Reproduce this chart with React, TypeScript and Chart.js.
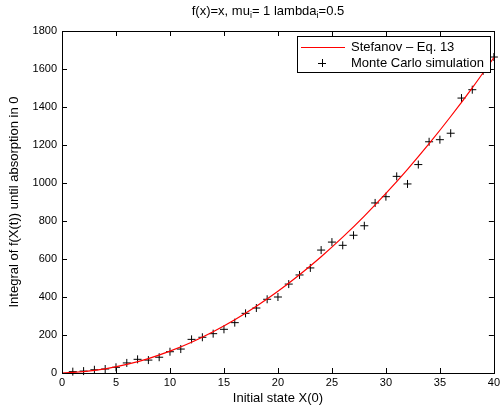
import React, { useEffect, useRef } from 'react';
import { Chart, registerables } from 'chart.js';

Chart.register(...registerables);

// ---- data ----
const curveX = [0, 2, 4, 6, 8, 10, 12, 14, 16, 18, 20, 22, 24, 26, 28, 30, 32, 34, 36, 38, 40];
const curveY = [0, 7, 22, 45, 76, 115, 162, 217, 280, 351, 430, 517, 612, 715, 826, 945, 1072, 1207, 1350, 1501, 1660];

const mcX = [1, 2, 3, 4, 5, 6, 7, 8, 9, 10, 11, 12, 13, 14, 15, 16, 17, 18, 19, 20,
  21, 22, 23, 24, 25, 26, 27, 28, 29, 30, 31, 32, 33, 34, 35, 36, 37, 38, 39, 40];
const mcY = [7, 10, 17, 21, 30, 53, 72, 68, 83, 112, 126, 177, 188, 207, 230, 265, 314, 342, 388, 400,
  468, 516, 553, 647, 689, 672, 725, 775, 895, 928, 1035, 995, 1097, 1217, 1228, 1262, 1447, 1491, 1590, 1663];

const seriesLabels = ['Stefanov \u2013 Eq. 13', 'Monte Carlo simulation'];
const titleParts: [string, boolean][] = [['f(x)=x, mu', false], ['i', true], ['= 1 lambda', false], ['i', true], ['=0.5', false]];
const xTitle = 'Initial state X(0)';
const yTitle = 'Integral of f(X(t)) until absorption in 0';

const FONT = '"Liberation Sans", Arial, Helvetica, sans-serif';

const framePlugin = {
  id: 'frame',
  afterDatasetsDraw(chart: any) {
    const { ctx, chartArea, scales } = chart;
    const { left, right, top, bottom } = chartArea;
    const tl = 5;
    ctx.save();
    ctx.strokeStyle = '#000';
    ctx.lineWidth = 1;
    ctx.beginPath();
    for (const t of scales.x.ticks) {
      const px = Math.round(scales.x.getPixelForValue(t.value)) + 0.5;
      ctx.moveTo(px, bottom); ctx.lineTo(px, bottom - tl);
      ctx.moveTo(px, top); ctx.lineTo(px, top + tl);
    }
    for (const t of scales.y.ticks) {
      const py = Math.round(scales.y.getPixelForValue(t.value)) + 0.5;
      ctx.moveTo(left, py); ctx.lineTo(left + tl, py);
      ctx.moveTo(right, py); ctx.lineTo(right - tl, py);
    }
    ctx.stroke();
    ctx.strokeRect(Math.round(left) + 0.5, Math.round(top) + 0.5, Math.round(right - left), Math.round(bottom - top));
    ctx.restore();
  },
};

const overlayPlugin = {
  id: 'overlay',
  afterDraw(chart: any) {
    const { ctx } = chart;
    ctx.save();
    // title with subscripts
    const mainFont = `13px ${FONT}`;
    const subFont = `9px ${FONT}`;
    let total = 0;
    for (const [t, sub] of titleParts) {
      ctx.font = sub ? subFont : mainFont;
      total += ctx.measureText(t).width;
    }
    let x = 268 - total / 2;
    const ty = 11;
    ctx.fillStyle = '#000';
    ctx.textBaseline = 'middle';
    ctx.textAlign = 'left';
    for (const [t, sub] of titleParts) {
      ctx.font = sub ? subFont : mainFont;
      ctx.fillText(t, x, sub ? ty + 5 : ty);
      x += ctx.measureText(t).width;
    }
    // legend
    const bx = 297.5, by = 36.5, bw = 193, bh = 36;
    ctx.fillStyle = '#fff';
    ctx.fillRect(bx, by, bw, bh);
    ctx.strokeStyle = '#000';
    ctx.lineWidth = 1;
    ctx.strokeRect(bx, by, bw, bh);
    ctx.strokeStyle = '#ff0000';
    ctx.beginPath();
    ctx.moveTo(301, 47.5); ctx.lineTo(345, 47.5);
    ctx.stroke();
    ctx.strokeStyle = '#000';
    ctx.beginPath();
    ctx.moveTo(318, 63.5); ctx.lineTo(326, 63.5);
    ctx.moveTo(322.5, 59); ctx.lineTo(322.5, 67);
    ctx.stroke();
    ctx.fillStyle = '#000';
    ctx.font = `13px ${FONT}`;
    ctx.fillText(seriesLabels[0], 351, 47);
    ctx.fillText(seriesLabels[1], 351, 63);
    ctx.restore();
  },
};

export default function App() {
  const ref = useRef<HTMLCanvasElement | null>(null);
  useEffect(() => {
    document.body.style.margin = '0';
    const canvas = ref.current!;
    const chart = new Chart(canvas, {
      type: 'scatter',
      data: {
        datasets: [
          {
            type: 'line',
            label: seriesLabels[0],
            data: curveX.map((v, i) => ({ x: v, y: curveY[i] })),
            borderColor: '#ff0000',
            backgroundColor: '#ff0000',
            borderWidth: 1.2,
            pointRadius: 0,
            cubicInterpolationMode: 'monotone',
            fill: false,
          } as any,
          {
            label: seriesLabels[1],
            data: mcX.map((v, i) => ({ x: v, y: mcY[i] })),
            pointStyle: 'cross',
            pointRadius: 4,
            pointHoverRadius: 4,
            borderColor: '#000',
            backgroundColor: '#000',
            borderWidth: 1,
            clip: false,
          } as any,
        ],
      },
      options: {
        animation: false,
        responsive: false,
        devicePixelRatio: 1,
        events: [],
        layout: { padding: { top: 31, right: 8, left: 0, bottom: 0 } },
        plugins: {
          legend: { display: false },
          title: { display: false },
          tooltip: { enabled: false },
        },
        scales: {
          x: {
            type: 'linear',
            min: 0,
            max: 40,
            ticks: { stepSize: 5, color: '#000', font: { family: FONT, size: 11 }, padding: 3, maxRotation: 0, callback: (v: any) => String(v) },
            grid: { display: false, drawTicks: false },
            border: { display: false },
            title: { display: true, text: xTitle, color: '#000', font: { family: FONT, size: 13 }, padding: { top: 0, bottom: 6 } },
            afterFit: (s: any) => { s.height = 39; },
          },
          y: {
            type: 'linear',
            min: 0,
            max: 1800,
            ticks: { stepSize: 200, color: '#000', font: { family: FONT, size: 11 }, padding: 5, callback: (v: any) => String(v) },
            grid: { display: false, drawTicks: false },
            border: { display: false },
            title: { display: true, text: yTitle, color: '#000', font: { family: FONT, size: 13 }, padding: { top: 7, bottom: 0 } },
            afterFit: (s: any) => { s.width = 62; },
          },
        },
      },
      plugins: [framePlugin, overlayPlugin],
    });
    return () => chart.destroy();
  }, []);
  return (
    <div style={{ position: 'fixed', left: 0, top: 0, width: 503, height: 412, background: '#fff' }}>
      <canvas ref={ref} width={503} height={412} style={{ width: 503, height: 412, display: 'block' }} />
    </div>
  );
}
